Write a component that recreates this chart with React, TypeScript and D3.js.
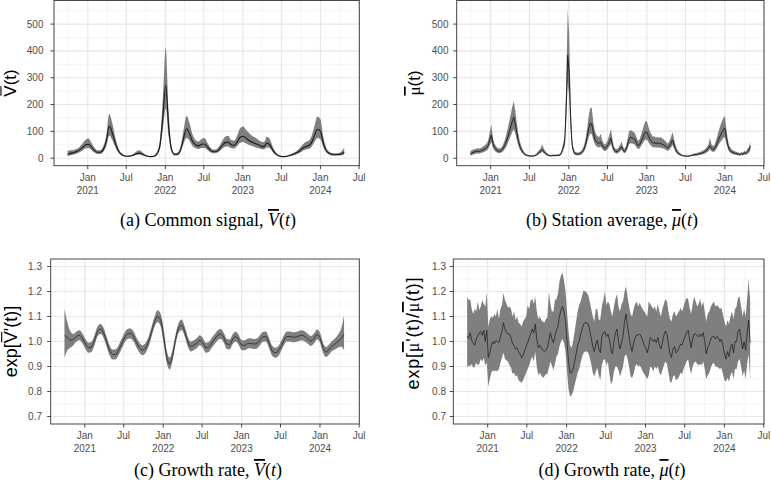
import React from 'react';
import * as d3 from 'd3';

const W = 771;
const H = 489;

// fits are stored every two weeks, station averages every week
const seriesStart = new Date(2020, 8, 28);

// (a) common signal V(t): posterior mean and 95% band
const commonMean = [15, 18, 21, 25, 31, 40, 49, 52, 42, 29, 22, 22, 32, 62, 120, 95, 58, 30, 15, 9, 7, 8, 11, 16, 19, 16, 10, 7, 6, 7, 15, 45, 150, 272, 115, 30, 14, 15, 32, 75, 110, 92, 62, 50, 46, 52, 53, 42, 30, 24, 25, 33, 48, 58, 60, 50, 48, 60, 78, 82, 75, 66, 60, 55, 51, 45, 43, 56, 50, 30, 16, 9, 6, 6, 8, 11, 15, 20, 27, 37, 43, 46, 58, 85, 108, 100, 55, 28, 18, 14, 13, 14, 16, 22];
const commonLo = [8, 11, 14, 17, 22, 29, 36, 38, 31, 21, 16, 16, 23, 45, 85, 68, 42, 22, 11, 7, 5, 6, 8, 12, 14, 12, 8, 5, 4, 5, 11, 32, 105, 185, 80, 22, 10, 11, 23, 55, 75, 65, 45, 37, 34, 38, 38, 31, 22, 18, 19, 25, 36, 43, 44, 38, 36, 45, 58, 60, 55, 49, 45, 41, 38, 34, 32, 41, 37, 22, 12, 7, 5, 5, 6, 8, 11, 15, 20, 27, 32, 34, 42, 60, 75, 70, 40, 21, 13, 10, 10, 10, 11, 14];
const commonHi = [28, 30, 31, 34, 42, 55, 68, 73, 58, 40, 30, 30, 45, 85, 166, 132, 80, 40, 20, 12, 9, 11, 15, 24, 30, 24, 14, 9, 8, 10, 22, 65, 220, 413, 170, 42, 19, 21, 45, 105, 158, 130, 88, 68, 62, 72, 75, 58, 40, 32, 33, 45, 65, 80, 84, 68, 65, 85, 112, 118, 106, 94, 84, 77, 70, 62, 60, 80, 72, 42, 22, 12, 8, 8, 11, 15, 20, 27, 37, 50, 60, 64, 82, 120, 155, 145, 78, 38, 24, 19, 18, 19, 24, 38];

// (b) station average mu(t), weekly
const stationMean = [16, 20, 22, 24, 25, 26, 25, 27, 30, 32, 36, 40, 48, 70, 86, 55, 40, 33, 28, 26, 26, 30, 38, 48, 62, 80, 98, 118, 138, 152, 128, 95, 66, 45, 32, 23, 16, 12, 10, 9, 8, 8, 8, 9, 12, 17, 22, 26, 32, 25, 19, 14, 11, 9, 9, 10, 10, 9, 11, 10, 13, 22, 40, 60, 190, 384, 320, 140, 48, 24, 17, 15, 15, 16, 19, 25, 35, 52, 80, 110, 130, 128, 100, 75, 62, 58, 55, 60, 48, 40, 36, 42, 50, 62, 74, 45, 30, 25, 24, 28, 34, 44, 30, 25, 32, 50, 72, 78, 76, 74, 68, 56, 46, 50, 62, 75, 88, 98, 96, 82, 70, 62, 56, 58, 54, 57, 53, 56, 52, 50, 46, 42, 38, 45, 55, 68, 52, 35, 24, 18, 14, 11, 9, 8, 8, 7, 8, 9, 11, 12, 13, 13, 15, 16, 18, 20, 22, 25, 30, 36, 46, 38, 32, 34, 45, 58, 72, 84, 96, 106, 112, 78, 48, 32, 26, 22, 20, 18, 16, 15, 13, 16, 14, 20, 17, 24, 28, 45];
const stationLo = [9, 12, 14, 16, 17, 18, 17, 19, 21, 23, 26, 29, 35, 50, 60, 40, 29, 24, 20, 19, 19, 22, 27, 34, 44, 57, 70, 84, 98, 108, 92, 68, 47, 32, 23, 17, 12, 9, 7, 6, 6, 6, 6, 7, 9, 12, 16, 19, 23, 18, 14, 10, 8, 7, 7, 7, 7, 7, 8, 7, 9, 16, 29, 44, 135, 280, 235, 100, 35, 17, 12, 11, 11, 12, 14, 18, 25, 38, 58, 78, 92, 90, 72, 54, 45, 42, 40, 43, 35, 29, 26, 30, 36, 45, 53, 33, 22, 18, 17, 20, 25, 32, 22, 18, 23, 36, 52, 56, 55, 53, 49, 41, 33, 36, 45, 54, 63, 70, 69, 59, 50, 45, 40, 42, 39, 41, 38, 40, 37, 36, 33, 30, 27, 32, 40, 49, 37, 25, 17, 13, 10, 8, 7, 6, 6, 5, 6, 7, 8, 9, 9, 9, 11, 12, 13, 14, 16, 18, 22, 26, 33, 27, 23, 24, 32, 41, 52, 60, 68, 75, 78, 56, 35, 23, 19, 16, 14, 13, 12, 11, 9, 12, 10, 14, 12, 17, 20, 30];
const stationHi = [26, 30, 32, 34, 35, 37, 36, 38, 42, 45, 50, 56, 68, 100, 125, 78, 56, 46, 39, 36, 37, 42, 53, 68, 88, 112, 138, 165, 192, 212, 178, 132, 92, 63, 45, 32, 22, 17, 14, 12, 11, 11, 11, 13, 17, 24, 31, 37, 52, 36, 27, 20, 15, 13, 12, 14, 14, 13, 15, 14, 18, 31, 56, 85, 270, 556, 460, 200, 68, 34, 24, 21, 21, 23, 27, 35, 49, 73, 112, 155, 185, 190, 140, 105, 88, 82, 78, 92, 68, 56, 50, 59, 72, 90, 108, 64, 42, 35, 34, 40, 48, 62, 42, 35, 45, 70, 100, 104, 102, 98, 92, 78, 64, 70, 87, 105, 124, 140, 136, 116, 99, 88, 80, 82, 76, 80, 75, 79, 74, 71, 65, 59, 54, 64, 78, 98, 74, 49, 34, 25, 19, 15, 12, 11, 11, 10, 11, 12, 15, 17, 18, 18, 21, 22, 25, 28, 31, 35, 42, 51, 75, 54, 45, 48, 65, 84, 104, 122, 138, 150, 158, 110, 68, 45, 37, 31, 28, 25, 23, 21, 18, 23, 20, 28, 24, 34, 40, 62];

// (c) growth rate of the common signal, exp[V'(t)]
const growthVMean = [1.025, 1.015, 1.005, 1.008, 1.02, 1.025, 1.012, 0.99, 0.975, 0.978, 1.005, 1.04, 1.05, 1.035, 1.0, 0.965, 0.948, 0.948, 0.965, 0.99, 1.015, 1.03, 1.032, 1.02, 0.995, 0.975, 0.965, 0.975, 1.0, 1.04, 1.08, 1.1, 1.085, 1.02, 0.94, 0.91, 0.945, 1.01, 1.055, 1.065, 1.04, 1.0, 0.98, 0.985, 0.993, 1.005, 0.995, 0.975, 0.978, 0.995, 1.01, 1.025, 1.03, 1.015, 0.99, 0.988, 1.01, 1.02, 1.005, 0.985, 0.985, 0.992, 0.993, 0.99, 0.992, 1.005, 1.018, 1.02, 0.995, 0.965, 0.955, 0.96, 0.98, 1.005, 1.02, 1.02, 1.017, 1.018, 1.022, 1.025, 1.02, 1.01, 1.002, 1.012, 1.028, 1.015, 0.975, 0.958, 0.968, 0.982, 0.99, 1.0, 1.01, 1.028];
const growthVLo = [0.935, 0.965, 0.975, 0.985, 1.0, 1.005, 0.992, 0.97, 0.955, 0.958, 0.985, 1.02, 1.03, 1.015, 0.98, 0.945, 0.928, 0.928, 0.945, 0.97, 0.995, 1.01, 1.012, 1.0, 0.975, 0.955, 0.945, 0.955, 0.98, 1.02, 1.06, 1.077, 1.06, 0.99, 0.915, 0.888, 0.925, 0.99, 1.035, 1.045, 1.02, 0.98, 0.96, 0.965, 0.973, 0.985, 0.975, 0.955, 0.958, 0.975, 0.99, 1.005, 1.01, 0.995, 0.97, 0.968, 0.99, 1.0, 0.985, 0.965, 0.965, 0.972, 0.973, 0.97, 0.972, 0.985, 0.998, 1.0, 0.975, 0.945, 0.935, 0.94, 0.96, 0.985, 1.0, 1.0, 0.997, 0.998, 1.002, 1.005, 1.0, 0.99, 0.982, 0.992, 1.008, 0.995, 0.955, 0.938, 0.948, 0.962, 0.968, 0.975, 0.98, 0.965];
const growthVHi = [1.13, 1.075, 1.04, 1.03, 1.04, 1.045, 1.032, 1.01, 0.995, 0.998, 1.025, 1.06, 1.07, 1.055, 1.02, 0.985, 0.968, 0.968, 0.985, 1.01, 1.035, 1.05, 1.052, 1.04, 1.015, 0.995, 0.985, 0.995, 1.02, 1.06, 1.1, 1.125, 1.11, 1.05, 0.965, 0.935, 0.97, 1.03, 1.075, 1.088, 1.06, 1.02, 1.0, 1.005, 1.013, 1.025, 1.015, 0.995, 0.998, 1.015, 1.03, 1.045, 1.05, 1.035, 1.01, 1.008, 1.03, 1.04, 1.025, 1.005, 1.005, 1.012, 1.013, 1.01, 1.012, 1.025, 1.038, 1.04, 1.015, 0.985, 0.975, 0.98, 1.0, 1.025, 1.04, 1.04, 1.037, 1.038, 1.042, 1.045, 1.04, 1.03, 1.022, 1.032, 1.048, 1.035, 0.995, 0.978, 0.988, 1.002, 1.012, 1.028, 1.05, 1.105];

// (d) growth rate of the station average, exp[mu'(t)/mu(t)], weekly
const growthMuMean = [1.022, 1.012, 1.035, 1.005, 0.995, 0.985, 1.01, 1.02, 1.035, 1.04, 1.025, 1.045, 1.0, 1.045, 0.935, 0.955, 0.985, 1.0, 0.99, 1.005, 1.0, 0.995, 1.02, 1.04, 1.075, 1.05, 1.035, 1.03, 1.03, 1.015, 0.99, 0.985, 0.97, 0.975, 0.955, 0.95, 0.935, 0.945, 0.965, 0.98, 0.995, 1.015, 1.03, 1.05, 1.035, 1.07, 1.01, 0.975, 0.985, 0.975, 0.965, 0.96, 0.965, 0.975, 1.005, 1.035, 1.01, 0.995, 1.02, 1.045, 1.06, 1.1, 1.125, 1.14, 1.12, 1.085, 1.0, 0.92, 0.875, 0.875, 0.89, 0.92, 0.95, 0.985, 1.0, 1.03, 1.05, 1.07, 1.075, 1.075, 1.07, 1.045, 1.015, 0.98, 0.96, 0.99, 1.005, 0.97, 0.955, 1.02, 1.035, 1.04, 1.02, 1.03, 1.01, 0.97, 0.95, 1.0, 1.035, 1.05, 1.0, 0.97, 0.995, 1.02, 1.08, 1.11, 1.06, 1.02, 0.98, 0.96, 0.995, 1.015, 1.027, 1.025, 1.03, 1.02, 1.005, 0.985, 0.975, 0.955, 0.98, 1.016, 1.01, 1.0, 1.008, 0.995, 1.016, 0.985, 0.97, 0.995, 1.025, 1.042, 1.03, 0.99, 0.95, 0.936, 0.97, 0.98, 0.955, 0.962, 0.975, 0.99, 0.985, 1.005, 1.02, 1.035, 1.045, 1.01, 0.975, 1.01, 1.03, 1.03, 1.025, 1.018, 1.03, 1.02, 1.035, 1.0, 0.95, 0.975, 0.99, 1.01, 1.02, 1.022, 1.01, 1.02, 1.015, 1.0, 1.01, 0.985, 0.95, 0.93, 0.96, 0.94, 0.975, 0.99, 0.955, 1.0, 1.0, 1.04, 1.05, 1.01, 0.97, 1.0, 0.965, 1.03, 1.085, 0.995];
const growthMuLo = [0.895, 0.905, 0.9, 0.91, 0.895, 0.9, 0.915, 0.905, 0.91, 0.93, 0.92, 0.935, 0.905, 0.915, 0.82, 0.85, 0.875, 0.885, 0.88, 0.885, 0.88, 0.89, 0.915, 0.935, 0.955, 0.93, 0.925, 0.92, 0.905, 0.895, 0.87, 0.875, 0.86, 0.865, 0.845, 0.84, 0.835, 0.845, 0.86, 0.875, 0.89, 0.905, 0.925, 0.94, 0.92, 0.96, 0.9, 0.865, 0.875, 0.865, 0.855, 0.86, 0.87, 0.87, 0.895, 0.92, 0.905, 0.885, 0.91, 0.94, 0.95, 0.98, 1.0, 1.01, 0.995, 0.96, 0.88, 0.81, 0.78, 0.785, 0.8, 0.825, 0.85, 0.875, 0.89, 0.915, 0.94, 0.955, 0.96, 0.96, 0.955, 0.935, 0.91, 0.875, 0.86, 0.88, 0.895, 0.865, 0.845, 0.905, 0.925, 0.93, 0.905, 0.92, 0.87, 0.83, 0.84, 0.88, 0.9, 0.9, 0.885, 0.86, 0.88, 0.9, 0.94, 0.95, 0.93, 0.9, 0.86, 0.855, 0.87, 0.9, 0.91, 0.9, 0.905, 0.895, 0.88, 0.87, 0.86, 0.85, 0.865, 0.9, 0.895, 0.88, 0.9, 0.89, 0.9, 0.875, 0.865, 0.885, 0.905, 0.92, 0.91, 0.875, 0.84, 0.835, 0.86, 0.865, 0.845, 0.85, 0.86, 0.875, 0.87, 0.89, 0.905, 0.92, 0.93, 0.895, 0.87, 0.9, 0.915, 0.92, 0.91, 0.905, 0.91, 0.905, 0.92, 0.89, 0.85, 0.865, 0.875, 0.895, 0.91, 0.915, 0.9, 0.9, 0.895, 0.89, 0.895, 0.87, 0.845, 0.84, 0.855, 0.84, 0.865, 0.88, 0.85, 0.89, 0.89, 0.92, 0.93, 0.9, 0.86, 0.885, 0.85, 0.91, 0.95, 0.85];
const growthMuHi = [1.18, 1.165, 1.17, 1.13, 1.11, 1.13, 1.12, 1.16, 1.125, 1.14, 1.165, 1.15, 1.14, 1.195, 1.06, 1.09, 1.1, 1.095, 1.11, 1.1, 1.13, 1.09, 1.13, 1.145, 1.195, 1.165, 1.15, 1.135, 1.14, 1.13, 1.1, 1.12, 1.085, 1.1, 1.075, 1.07, 1.06, 1.08, 1.09, 1.1, 1.145, 1.13, 1.165, 1.17, 1.15, 1.18, 1.12, 1.09, 1.1, 1.085, 1.08, 1.075, 1.09, 1.095, 1.2, 1.15, 1.12, 1.12, 1.165, 1.17, 1.19, 1.24, 1.265, 1.275, 1.245, 1.2, 1.12, 1.04, 0.985, 0.975, 1.0, 1.04, 1.08, 1.12, 1.145, 1.16, 1.185, 1.205, 1.2, 1.195, 1.185, 1.16, 1.13, 1.1, 1.08, 1.13, 1.13, 1.085, 1.09, 1.14, 1.165, 1.2, 1.145, 1.16, 1.15, 1.12, 1.1, 1.14, 1.17, 1.19, 1.14, 1.12, 1.15, 1.16, 1.2, 1.22, 1.18, 1.14, 1.11, 1.1, 1.13, 1.15, 1.16, 1.14, 1.155, 1.14, 1.13, 1.12, 1.11, 1.1, 1.16, 1.15, 1.14, 1.13, 1.14, 1.12, 1.15, 1.12, 1.1, 1.13, 1.15, 1.17, 1.16, 1.12, 1.09, 1.08, 1.11, 1.12, 1.1, 1.11, 1.12, 1.135, 1.12, 1.14, 1.16, 1.175, 1.17, 1.135, 1.11, 1.15, 1.18, 1.16, 1.14, 1.15, 1.17, 1.14, 1.16, 1.12, 1.08, 1.11, 1.12, 1.14, 1.15, 1.16, 1.14, 1.145, 1.14, 1.13, 1.135, 1.11, 1.08, 1.06, 1.085, 1.07, 1.1, 1.12, 1.09, 1.13, 1.14, 1.175, 1.18, 1.14, 1.1, 1.13, 1.1, 1.17, 1.25, 1.16];

const levelTicks = [0, 100, 200, 300, 400, 500];
const rateTicks = [0.7, 0.8, 0.9, 1.0, 1.1, 1.2, 1.3];

const biweekly = commonMean.map((_, i) => d3.timeDay.offset(seriesStart, 14 * i));
const weekly = stationMean.map((_, i) => d3.timeDay.offset(seriesStart, 7 * i));

const xDomain: [Date, Date] = [new Date(2020, 6, 26), new Date(2024, 6, 2)];

const SANS = "'Liberation Sans', Arial, Helvetica, sans-serif";
const SERIF = "'Liberation Serif', 'Times New Roman', serif";

type PanelProps = {
  id: string;
  left: number;
  right: number;
  top: number;
  bottom: number;
  dates: Date[];
  mean: number[];
  lo: number[];
  hi: number[];
  yDomain: [number, number];
  yTicks: number[];
  yFormat: (v: number) => string;
  labelEnd: number;
  lineWidth: number;
  curve: d3.CurveFactory;
};

function Panel(p: PanelProps) {
  const x = d3.scaleTime().domain(xDomain).range([p.left, p.right]);
  const y = d3.scaleLinear().domain(p.yDomain).range([p.bottom, p.top]);

  const major = x.ticks(d3.timeMonth.every(6)!);
  const minor = x
    .ticks(d3.timeMonth.every(3)!)
    .filter((d) => !major.some((m) => +m === +d));

  const step = p.yTicks[1] - p.yTicks[0];
  const yMinor = [p.yTicks[0] - step / 2, ...p.yTicks.map((t) => t + step / 2)].filter(
    (v) => v >= p.yDomain[0] && v <= p.yDomain[1]
  );

  const rows = p.dates.map((d, i) => ({ d, m: p.mean[i], lo: p.lo[i], hi: p.hi[i] }));
  const band = d3
    .area<typeof rows[number]>()
    .x((r) => x(r.d))
    .y0((r) => y(r.lo))
    .y1((r) => y(r.hi))
    .curve(p.curve);
  const line = d3
    .line<typeof rows[number]>()
    .x((r) => x(r.d))
    .y((r) => y(r.m))
    .curve(p.curve);

  const fmtMonth = d3.timeFormat('%b');
  const fmtYear = d3.timeFormat('%Y');

  return (
    <g>
      <defs>
        <clipPath id={p.id}>
          <rect x={p.left} y={p.top} width={p.right - p.left} height={p.bottom - p.top} />
        </clipPath>
      </defs>
      <rect x={p.left} y={p.top} width={p.right - p.left} height={p.bottom - p.top} fill="#fff" />
      {minor.map((d) => (
        <line key={'vm' + +d} x1={x(d)} x2={x(d)} y1={p.top} y2={p.bottom} stroke="#f0f0f0" strokeWidth={0.7} />
      ))}
      {yMinor.map((v) => (
        <line key={'hm' + v} x1={p.left} x2={p.right} y1={y(v)} y2={y(v)} stroke="#f0f0f0" strokeWidth={0.7} />
      ))}
      {major.map((d) => (
        <line key={'vM' + +d} x1={x(d)} x2={x(d)} y1={p.top} y2={p.bottom} stroke="#e6e6e6" strokeWidth={1.1} />
      ))}
      {p.yTicks.map((v) => (
        <line key={'hM' + v} x1={p.left} x2={p.right} y1={y(v)} y2={y(v)} stroke="#e6e6e6" strokeWidth={1.1} />
      ))}
      <g clipPath={`url(#${p.id})`}>
        <path d={band(rows) ?? ''} fill="#7f7f7f" />
        <path d={line(rows) ?? ''} fill="none" stroke="#1a1a1a" strokeWidth={p.lineWidth} />
      </g>
      <rect
        x={p.left}
        y={p.top}
        width={p.right - p.left}
        height={p.bottom - p.top}
        fill="none"
        stroke="#333"
        strokeWidth={0.9}
      />
      {p.yTicks.map((v) => (
        <g key={'yt' + v}>
          <line x1={p.left - 3.5} x2={p.left} y1={y(v)} y2={y(v)} stroke="#333" strokeWidth={0.9} />
          <text
            x={p.labelEnd}
            y={y(v)}
            dy="0.35em"
            textAnchor="end"
            fontFamily={SANS}
            fontSize={10}
            fill="#4d4d4d"
          >
            {p.yFormat(v)}
          </text>
        </g>
      ))}
      {major.map((d) => (
        <g key={'xt' + +d}>
          <line x1={x(d)} x2={x(d)} y1={p.bottom} y2={p.bottom + 3.5} stroke="#333" strokeWidth={0.9} />
          <text x={x(d)} y={p.bottom + 15} textAnchor="middle" fontFamily={SANS} fontSize={10} fill="#4d4d4d">
            {fmtMonth(d)}
          </text>
          {d.getMonth() === 0 && (
            <text x={x(d)} y={p.bottom + 28} textAnchor="middle" fontFamily={SANS} fontSize={10} fill="#4d4d4d">
              {fmtYear(d)}
            </text>
          )}
        </g>
      ))}
    </g>
  );
}

const bar = { textDecoration: 'overline' } as React.CSSProperties;

// rotated axis title; `barFrom`/`barTo` place a bar over a glyph (text-space units)
function YTitle({
  x,
  y,
  size,
  spacing = 0,
  barFrom,
  barTo,
  children,
}: {
  x: number;
  y: number;
  size: number;
  spacing?: number;
  barFrom?: number;
  barTo?: number;
  children: React.ReactNode;
}) {
  return (
    <g transform={`translate(${x},${y}) rotate(-90)`}>
      <text textAnchor="middle" fontFamily={SANS} fontSize={size} letterSpacing={spacing} fill="#000">
        {children}
      </text>
      {barFrom !== undefined && barTo !== undefined && (
        <line x1={barFrom} x2={barTo} y1={-(0.716 * size + 2.4)} y2={-(0.716 * size + 2.4)} stroke="#000" strokeWidth={1.1} />
      )}
    </g>
  );
}

function Caption({ x, y, label, children }: { x: number; y: number; label: string; children: React.ReactNode }) {
  return (
    <text x={x} y={y} textAnchor="middle" fontFamily={SERIF} fontSize={18} fill="#000">
      {label}
      {children}
    </text>
  );
}

export default function App() {
  const levelFmt = (v: number) => String(v);
  const rateFmt = (v: number) => v.toFixed(1);
  return (
    <svg
      width={W}
      height={H}
      viewBox={`0 0 ${W} ${H}`}
      style={{ position: 'absolute', left: 0, top: 0, background: '#fff' }}
    >
      <rect width={W} height={H} fill="#fff" />

      <Panel
        id="clip-a"
        left={54}
        right={359.3}
        top={0.5}
        bottom={165.7}
        dates={biweekly}
        mean={commonMean}
        lo={commonLo}
        hi={commonHi}
        yDomain={[-28, 588]}
        yTicks={levelTicks}
        yFormat={levelFmt}
        labelEnd={43.5}
        lineWidth={1.1}
        curve={d3.curveMonotoneX}
      />
      <Panel
        id="clip-b"
        left={456.7}
        right={764}
        top={0.5}
        bottom={165.7}
        dates={weekly}
        mean={stationMean}
        lo={stationLo}
        hi={stationHi}
        yDomain={[-28, 588]}
        yTicks={levelTicks}
        yFormat={levelFmt}
        labelEnd={448.5}
        lineWidth={0.9}
        curve={d3.curveLinear}
      />
      <Panel
        id="clip-c"
        left={50.7}
        right={359.3}
        top={259}
        bottom={424}
        dates={biweekly}
        mean={growthVMean}
        lo={growthVLo}
        hi={growthVHi}
        yDomain={[0.67, 1.33]}
        yTicks={rateTicks}
        yFormat={rateFmt}
        labelEnd={42}
        lineWidth={0.7}
        curve={d3.curveMonotoneX}
      />
      <Panel
        id="clip-d"
        left={453.3}
        right={764}
        top={259}
        bottom={424}
        dates={weekly}
        mean={growthMuMean}
        lo={growthMuLo}
        hi={growthMuHi}
        yDomain={[0.67, 1.33]}
        yTicks={rateTicks}
        yFormat={rateFmt}
        labelEnd={446}
        lineWidth={0.7}
        curve={d3.curveLinear}
      />

      <YTitle x={15.5} y={83} size={17} barFrom={-12.8} barTo={-3.2}>
        {'V(t)'}
      </YTitle>
      <YTitle x={420} y={83} size={17}>
        <tspan fontFamily={SERIF} style={bar}>μ</tspan>
        {'(t)'}
      </YTitle>
      <YTitle x={17} y={341.5} size={18} barFrom={-0.8} barTo={9.4}>
        {"exp[V'(t)]"}
      </YTitle>
      <YTitle x={419} y={333} size={18} spacing={0.8}>
        {'exp['}
        <tspan fontFamily={SERIF} style={bar}>μ</tspan>
        {"'(t)/"}
        <tspan fontFamily={SERIF} style={bar}>μ</tspan>
        {'(t)]'}
      </YTitle>

      <Caption x={208} y={226} label="(a) Common signal, ">
        <tspan fontStyle="italic" style={bar}>V</tspan>
        {'('}
        <tspan fontStyle="italic">t</tspan>
        {')'}
      </Caption>
      <Caption x={612} y={226} label="(b) Station average, ">
        <tspan fontStyle="italic" style={bar}>μ</tspan>
        {'('}
        <tspan fontStyle="italic">t</tspan>
        {')'}
      </Caption>
      <Caption x={208} y={476} label="(c) Growth rate, ">
        <tspan fontStyle="italic" style={bar}>V</tspan>
        {'('}
        <tspan fontStyle="italic">t</tspan>
        {')'}
      </Caption>
      <Caption x={612} y={476} label="(d) Growth rate, ">
        <tspan fontStyle="italic" style={bar}>μ</tspan>
        {'('}
        <tspan fontStyle="italic">t</tspan>
        {')'}
      </Caption>
    </svg>
  );
}
